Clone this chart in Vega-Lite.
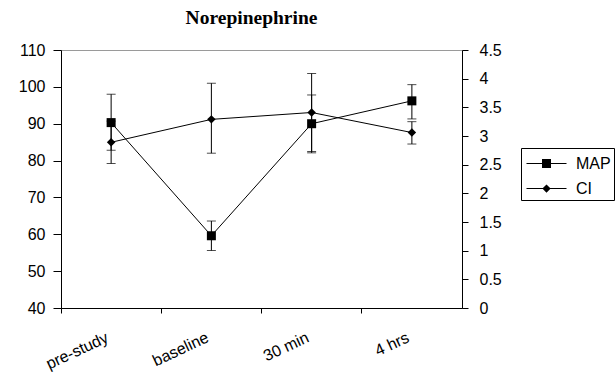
{
  "$schema": "https://vega.github.io/schema/vega-lite/v6.json",
  "width": 401,
  "height": 258,
  "autosize": "none",
  "padding": {"left": 61, "top": 50, "right": 154, "bottom": 67},
  "background": "white",
  "config": {
    "font": "Liberation Sans",
    "view": {"stroke": "#9a9a9a", "strokeWidth": 1},
    "axis": {"domainColor": "black", "tickColor": "black", "labelColor": "black", "labelFont": "Liberation Sans", "labelFontSize": 16, "grid": false}
  },
  "title": {"text": "Norepinephrine", "font": "Liberation Serif", "fontSize": 19.5, "fontWeight": "bold", "color": "black", "baseline": "bottom", "offset": 20, "dx": -10, "dy": 25},
  "data": {"values": [
    {"time": "pre-study", "series": "MAP", "value": 90.3, "lo": 82.8, "hi": 98.0},
    {"time": "baseline", "series": "MAP", "value": 59.6, "lo": 55.6, "hi": 63.6},
    {"time": "30 min", "series": "MAP", "value": 90.0, "lo": 82.1, "hi": 97.8},
    {"time": "4 hrs", "series": "MAP", "value": 96.2, "lo": 91.3, "hi": 100.6},
    {"time": "pre-study", "series": "CI", "value": 2.89, "lo": 2.52, "hi": 3.26},
    {"time": "baseline", "series": "CI", "value": 3.29, "lo": 2.70, "hi": 3.92},
    {"time": "30 min", "series": "CI", "value": 3.41, "lo": 2.73, "hi": 4.09},
    {"time": "4 hrs", "series": "CI", "value": 3.06, "lo": 2.86, "hi": 3.25}
  ]},
  "encoding": {
    "x": {"field": "time", "type": "nominal", "sort": ["pre-study", "baseline", "30 min", "4 hrs"], "title": null,
      "scale": {"paddingInner": 0, "paddingOuter": 0},
      "axis": {"bandPosition": 0, "labelAngle": -25, "labelAlign": "right", "labelBaseline": "top", "labelOffset": -7, "labelPadding": 16, "tickSize": 5, "domainColor": "black", "title": null}}
  },
  "layer": [
    {
      "transform": [{"filter": "datum.series === 'MAP'"}],
      "encoding": {
        "y": {"field": "value", "type": "quantitative", "title": null, "scale": {"domain": [40, 110], "nice": false, "zero": false},
          "axis": {"orient": "left", "values": [40, 50, 60, 70, 80, 90, 100, 110], "tickSize": 8, "labelPadding": 8, "title": null, "labelOverlap": false}}
      },
      "layer": [
        {"mark": {"type": "rule", "color": "black", "strokeWidth": 1},
         "encoding": {"y": {"field": "lo", "type": "quantitative"}, "y2": {"field": "hi"}}},
        {"mark": {"type": "tick", "color": "black", "thickness": 1, "size": 9, "orient": "horizontal"},
         "encoding": {"y": {"field": "lo", "type": "quantitative"}}},
        {"mark": {"type": "tick", "color": "black", "thickness": 1, "size": 9, "orient": "horizontal"},
         "encoding": {"y": {"field": "hi", "type": "quantitative"}}},
        {"mark": {"type": "line", "color": "black", "strokeWidth": 1}, "encoding": {}},
        {"mark": {"type": "point", "shape": "square", "filled": true, "color": "black", "opacity": 1, "size": 81}, "encoding": {}},
        {"mark": {"type": "point", "filled": true, "color": "black", "opacity": 0, "size": 81},
         "encoding": {
           "shape": {"field": "series", "type": "nominal", "scale": {"domain": ["MAP", "CI"], "range": ["M-1.6,-0.04H1.6V0.04H-1.6ZM-0.36,-0.36H0.36V0.36H-0.36Z", "M-1.6,-0.04H1.6V0.04H-1.6ZM0,-0.33L0.33,0L0,0.33L-0.33,0Z"]},
             "legend": {"title": null, "orient": "none", "legendX": 460, "legendY": 98, "padding": 3, "strokeColor": "black",
               "symbolSize": 625, "symbolOffset": 10, "labelOffset": 17, "rowPadding": 4, "labelFontSize": 16, "labelFont": "Liberation Sans", "labelColor": "black",
               "symbolFillColor": "black", "symbolStrokeColor": "black", "symbolStrokeWidth": 0, "symbolOpacity": 1}}}}
      ]
    },
    {
      "transform": [{"filter": "datum.series === 'CI'"}],
      "encoding": {
        "y": {"field": "value", "type": "quantitative", "title": null, "scale": {"domain": [0, 4.5], "nice": false},
          "axis": {"orient": "right", "values": [0, 0.5, 1, 1.5, 2, 2.5, 3, 3.5, 4, 4.5], "format": "~g", "tickSize": 6, "labelPadding": 11, "title": null, "labelOverlap": false}}
      },
      "layer": [
        {"mark": {"type": "rule", "color": "black", "strokeWidth": 1},
         "encoding": {"y": {"field": "lo", "type": "quantitative"}, "y2": {"field": "hi"}}},
        {"mark": {"type": "tick", "color": "black", "thickness": 1, "size": 9, "orient": "horizontal"},
         "encoding": {"y": {"field": "lo", "type": "quantitative"}}},
        {"mark": {"type": "tick", "color": "black", "thickness": 1, "size": 9, "orient": "horizontal"},
         "encoding": {"y": {"field": "hi", "type": "quantitative"}}},
        {"mark": {"type": "line", "color": "black", "strokeWidth": 1}, "encoding": {}},
        {"mark": {"type": "point", "shape": "diamond", "filled": true, "color": "black", "opacity": 1, "size": 72}, "encoding": {}}
      ]
    },
    {
      "transform": [{"filter": "datum.series === 'CI'"}],
      "mark": {"type": "point", "filled": true, "color": "black", "opacity": 0, "size": 72},
      "encoding": {
        "y": {"field": "value", "type": "quantitative", "scale": {"domain": [0, 4.5], "nice": false}, "axis": null},
        "shape": {"field": "series", "type": "nominal", "scale": {"domain": ["MAP", "CI"], "range": ["M-1.6,-0.04H1.6V0.04H-1.6ZM-0.36,-0.36H0.36V0.36H-0.36Z", "M-1.6,-0.04H1.6V0.04H-1.6ZM0,-0.33L0.33,0L0,0.33L-0.33,0Z"]}}
      }
    }
  ],
  "resolve": {"scale": {"y": "independent"}}
}
